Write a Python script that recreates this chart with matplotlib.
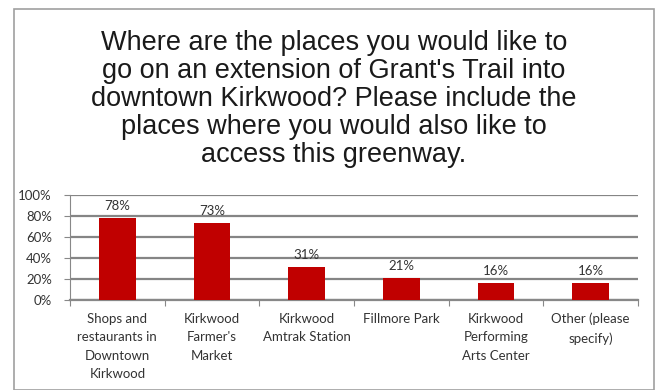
import matplotlib.pyplot as plt
from matplotlib.patches import Rectangle

# survey answers and share of respondents
places = ['Shops and\nrestaurants in\nDowntown\nKirkwood',
          "Kirkwood\nFarmer's\nMarket",
          'Kirkwood\nAmtrak Station',
          'Fillmore Park',
          'Kirkwood\nPerforming\nArts Center',
          'Other (please\nspecify)']
shares = [78, 73, 31, 21, 16, 16]
y_ticks = [0, 20, 40, 60, 80, 100]

title = ("Where are the places you would like to\n"
         "go on an extension of Grant's Trail into\n"
         "downtown Kirkwood? Please include the\n"
         "places where you would also like to\n"
         "access this greenway.")

W, H = 655, 390
fig = plt.figure(figsize=(W / 100, H / 100), dpi=100)
fig.patch.set_facecolor('white')

# outer frame
fig.patches.append(Rectangle((14 / W, 0), 640 / W, 1 - 9 / H, transform=fig.transFigure,
                             fill=False, edgecolor='#a0a0a0', linewidth=1.2))

fig.text(334 / W, 1 - 99 / H, title, ha='center', va='center', fontsize=19.5,
         family='Liberation Sans', color='#1a1a1a', linespacing=1.1)

# plot area: x 70..638, y 195..300 (pixels)
ax = fig.add_axes([70 / W, 1 - 300 / H, (638 - 70) / W, (300 - 195) / H])
x = range(len(places))
ax.bar(x, shares, width=0.39, color='#c00000', zorder=3)
ax.set_xlim(-0.5, len(places) - 0.5)
ax.set_ylim(0, 100)
ax.set_yticks(y_ticks)
ax.set_yticklabels([f'{v}%' for v in y_ticks], fontsize=9.5, color='#333333',
                   family='Lato')
ax.yaxis.grid(True, color='#858585', linewidth=1.6, zorder=0)
ax.tick_params(axis='y', length=4, color='#888888', pad=9)

# category separators as tick marks
ax.set_xticks([i + 0.5 for i in range(-1, len(places))], minor=False)
ax.set_xticklabels([])
ax.tick_params(axis='x', length=4, color='#888888')
for i, lab in enumerate(places):
    ax.text(i, -12, lab, ha='center', va='top', fontsize=9.5, color='#333333',
            family='Lato', linespacing=1.65)

for i, v in enumerate(shares):
    ax.text(i, v + 6, f'{v}%', ha='center', va='bottom', fontsize=9.5,
            color='#333333', family='Lato')

for s in ['top', 'right']:
    ax.spines[s].set_visible(False)
ax.spines['left'].set_color('#888888')
ax.spines['bottom'].set_color('#888888')
ax.spines['bottom'].set_linewidth(1.6)

fig.savefig('out.png', dpi=100)
